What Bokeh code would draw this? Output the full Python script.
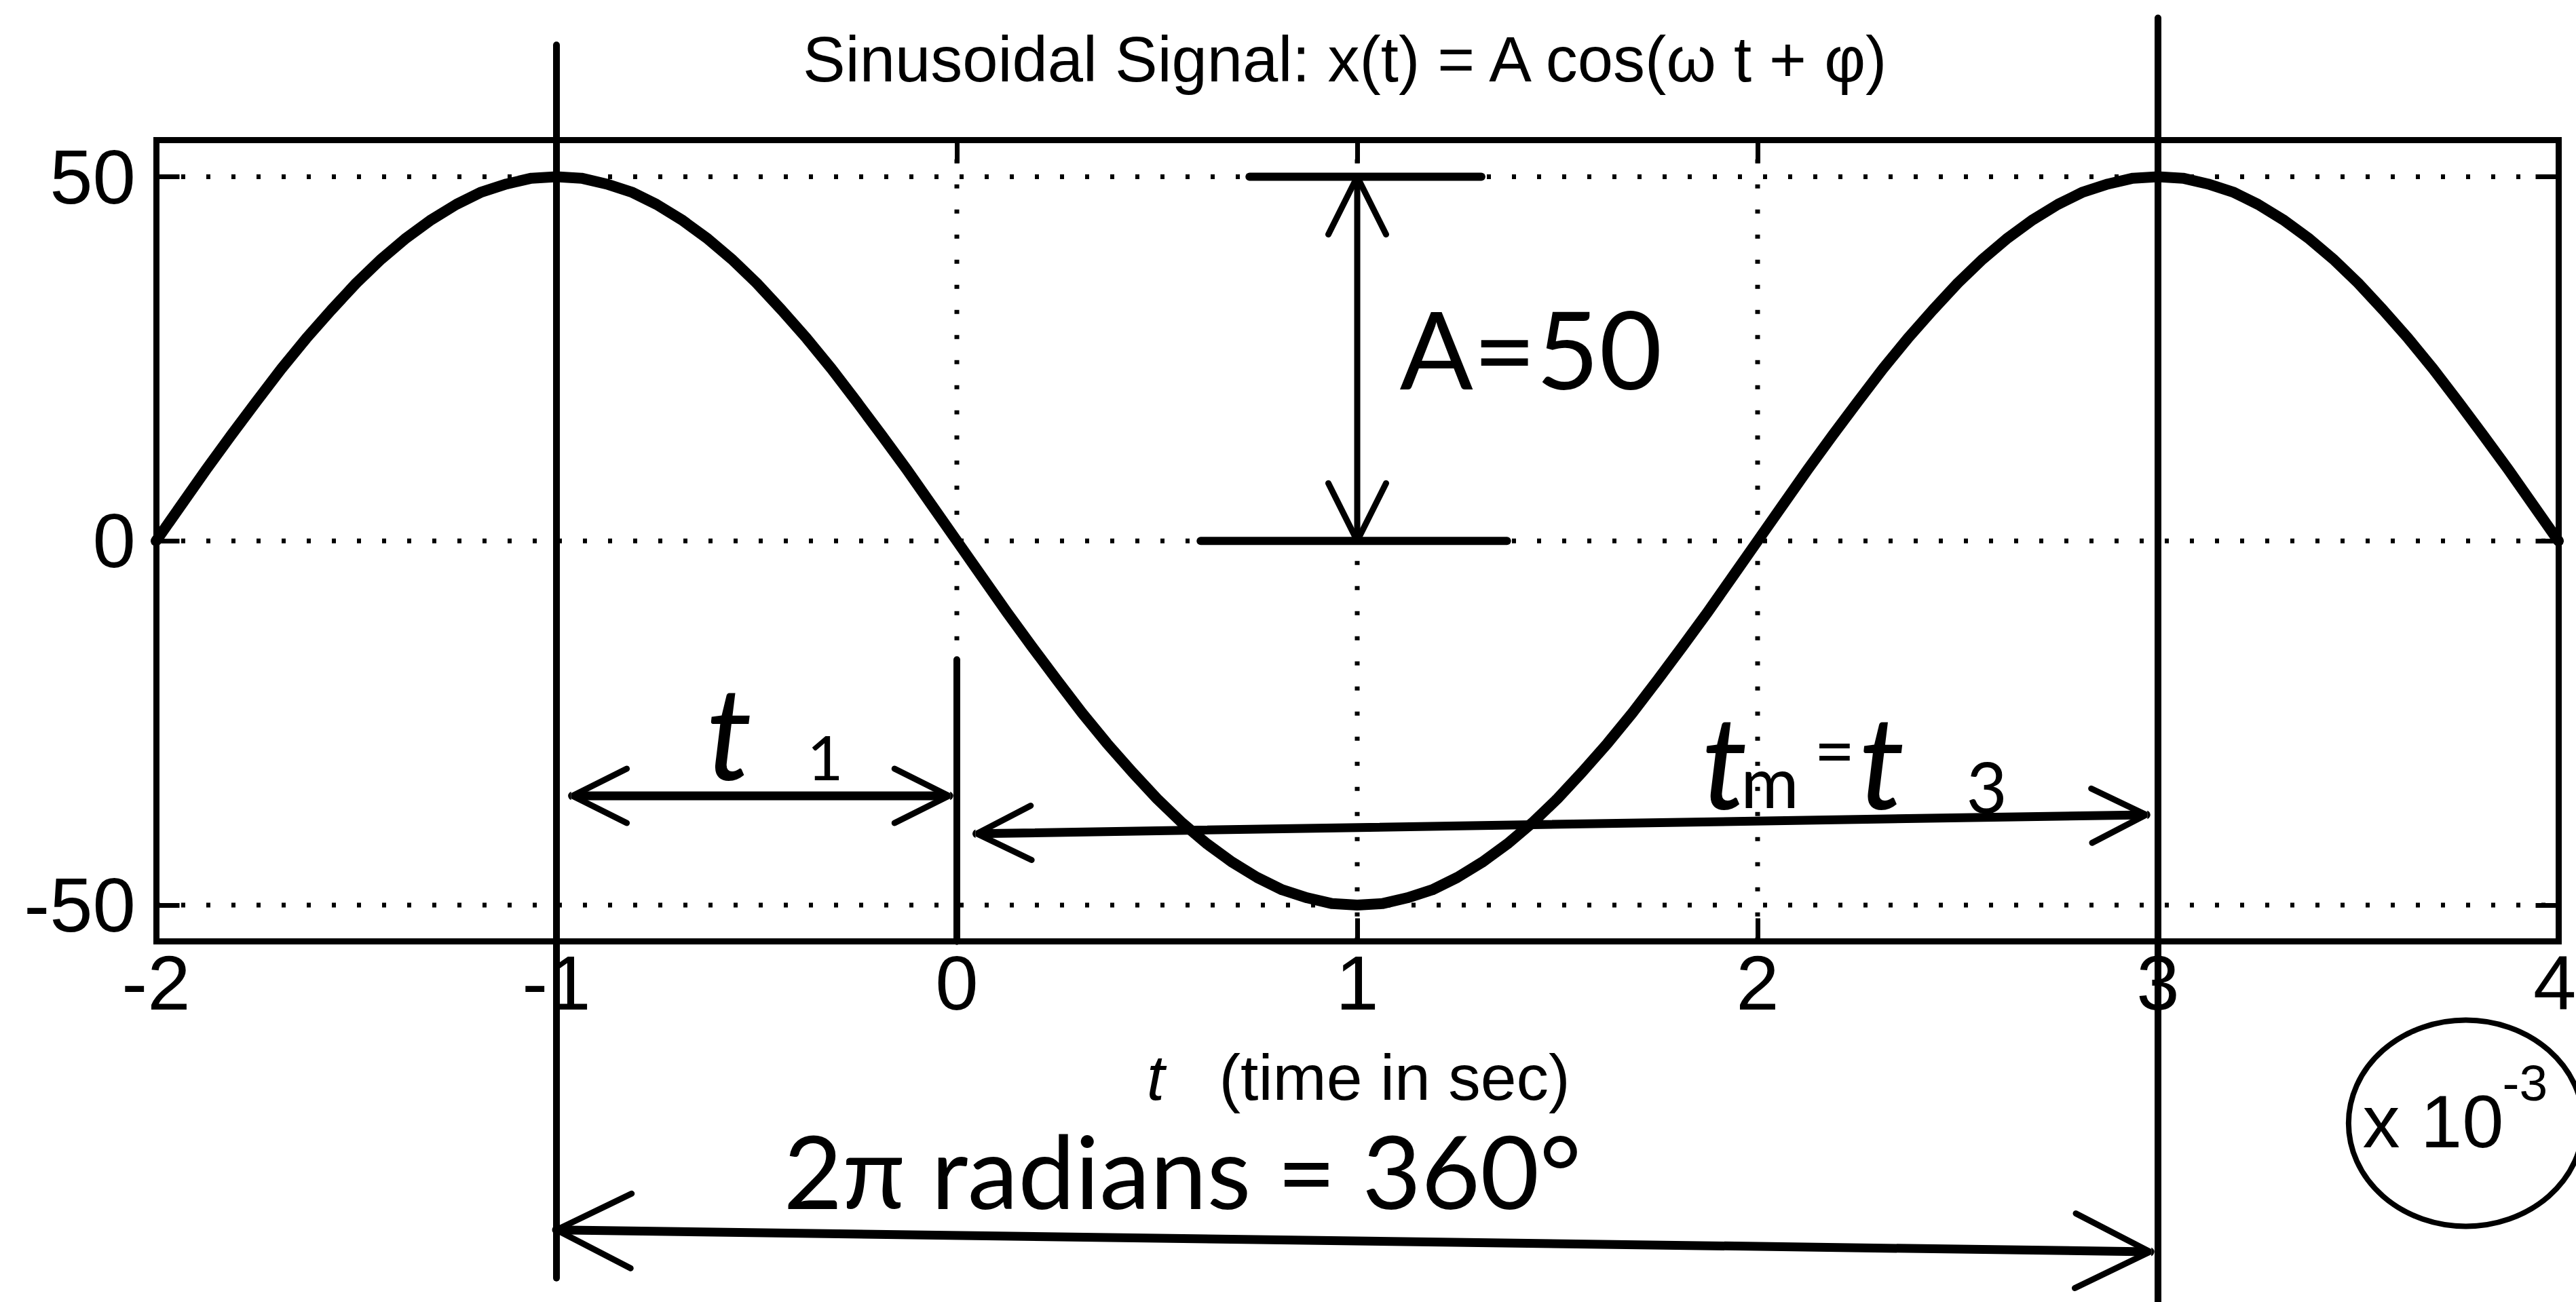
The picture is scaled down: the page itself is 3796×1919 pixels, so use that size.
from bokeh.plotting import figure
from bokeh.models import (Range1d, LinearAxis, FixedTicker, CustomJSTickFormatter,
                          Label, Arrow, OpenHead)
from bokeh.embed import file_html
from bokeh.resources import INLINE

# ---------------------------------------------------------------- data
# time in milliseconds (the axis carries a x 10^-3 multiplier)
t_ms = [-2.0, -1.9375, -1.875, -1.8125, -1.75, -1.6875, -1.625, -1.5625,
        -1.5, -1.4375, -1.375, -1.3125, -1.25, -1.1875, -1.125, -1.0625,
        -1.0, -0.9375, -0.875, -0.8125, -0.75, -0.6875, -0.625, -0.5625,
        -0.5, -0.4375, -0.375, -0.3125, -0.25, -0.1875, -0.125, -0.0625,
        0.0, 0.0625, 0.125, 0.1875, 0.25, 0.3125, 0.375, 0.4375,
        0.5, 0.5625, 0.625, 0.6875, 0.75, 0.8125, 0.875, 0.9375,
        1.0, 1.0625, 1.125, 1.1875, 1.25, 1.3125, 1.375, 1.4375,
        1.5, 1.5625, 1.625, 1.6875, 1.75, 1.8125, 1.875, 1.9375,
        2.0, 2.0625, 2.125, 2.1875, 2.25, 2.3125, 2.375, 2.4375,
        2.5, 2.5625, 2.625, 2.6875, 2.75, 2.8125, 2.875, 2.9375,
        3.0, 3.0625, 3.125, 3.1875, 3.25, 3.3125, 3.375, 3.4375,
        3.5, 3.5625, 3.625, 3.6875, 3.75, 3.8125, 3.875, 3.9375,
        4.0]
x_t = [0.0, 4.9, 9.8, 14.5, 19.1, 23.6, 27.8, 31.7,
       35.4, 38.7, 41.6, 44.1, 46.2, 47.9, 49.0, 49.8,
       50.0, 49.8, 49.0, 47.9, 46.2, 44.1, 41.6, 38.7,
       35.4, 31.7, 27.8, 23.6, 19.1, 14.5, 9.8, 4.9,
       0.0, -4.9, -9.8, -14.5, -19.1, -23.6, -27.8, -31.7,
       -35.4, -38.7, -41.6, -44.1, -46.2, -47.9, -49.0, -49.8,
       -50.0, -49.8, -49.0, -47.9, -46.2, -44.1, -41.6, -38.7,
       -35.4, -31.7, -27.8, -23.6, -19.1, -14.5, -9.8, -4.9,
       0.0, 4.9, 9.8, 14.5, 19.1, 23.6, 27.8, 31.7,
       35.4, 38.7, 41.6, 44.1, 46.2, 47.9, 49.0, 49.8,
       50.0, 49.8, 49.0, 47.9, 46.2, 44.1, 41.6, 38.7,
       35.4, 31.7, 27.8, 23.6, 19.1, 14.5, 9.8, 4.9,
       0.0]

x_ticks = [-2, -1, 0, 1, 2, 3, 4]
x_tick_labels = ["-2", "-1", "0", "1", "2", "3", "4"]
y_ticks = [-50, 0, 50]
y_tick_labels = ["-50", "0", "50"]
x_limits = [-2, 4]
y_limits = [-55, 55]

amplitude = 50          # A
peak_times = [-1, 3]    # two successive maxima, one period apart
zero_time = 0           # zero crossing that ends t1

title_text = "Sinusoidal Signal:  x(t) = A cos(\u03c9 t + \u03c6)"

# ---------------------------------------------------------------- layout
W, H = 3796, 1919
AX_LEFT_PX = 229.5      # pixel column of t = -2
PX_PER_MS = 590.0
Y0_PX = 796.75          # pixel row of x = 0
PX_PER_UNIT = 10.735

x_range = Range1d(x_limits[0] - AX_LEFT_PX / PX_PER_MS,
                  x_limits[0] + (W - AX_LEFT_PX) / PX_PER_MS)
y_range = Range1d(-(H - Y0_PX) / PX_PER_UNIT, Y0_PX / PX_PER_UNIT)

p = figure(width=W, height=H, x_range=x_range, y_range=y_range,
           x_axis_type=None, y_axis_type=None, toolbar_location=None,
           output_backend="svg", min_border=0, title=None)
p.outline_line_color = None
p.background_fill_color = "white"
p.border_fill_color = "white"

INK = "black"
AXIS_FONT = "Liberation Sans"
HAND_FONT = "Lato"

# dotted grid inside the box
gx = x_ticks[1:-1]
p.segment(x0=gx, y0=[y_limits[0]] * len(gx), x1=gx, y1=[y_limits[1]] * len(gx),
          line_color=INK, line_width=7, line_dash="6 31")
p.segment(x0=[x_limits[0]] * len(y_ticks), y0=y_ticks,
          x1=[x_limits[1]] * len(y_ticks), y1=y_ticks,
          line_color=INK, line_width=7, line_dash="6 31")

# the signal
p.line(t_ms, x_t, line_color=INK, line_width=16, line_join="round", line_cap="round")


# boxed axes with inward ticks
def box_axis(side, loc, ticks, tick_labels, bounds):
    ax = LinearAxis(fixed_location=loc, bounds=bounds, ticker=FixedTicker(ticks=ticks),
                    axis_line_color=INK, axis_line_width=9, axis_line_cap="square",
                    major_tick_line_color=INK, major_tick_line_width=7,
                    major_tick_in=34, major_tick_out=0,
                    minor_tick_in=0, minor_tick_out=0,
                    major_label_text_font=AXIS_FONT, major_label_text_font_size="114px",
                    major_label_text_color=INK,
                    major_label_standoff=22 if side == "below" else 30)
    if tick_labels is None:
        ax.formatter = CustomJSTickFormatter(code="return ''")
    else:
        ax.major_label_overrides = {t: s for t, s in zip(ticks, tick_labels)}
    p.add_layout(ax, side)


box_axis("below", y_limits[0], x_ticks, x_tick_labels, tuple(x_limits))
box_axis("above", y_limits[1], x_ticks, None, tuple(x_limits))
box_axis("left", x_limits[0], y_ticks, y_tick_labels, tuple(y_limits))
box_axis("right", x_limits[1], y_ticks, None, tuple(y_limits))


def label(x, y, text, size, font, style="normal", align="left"):
    # y is the text baseline; lift by the gap Bokeh leaves under it
    p.add_layout(Label(x=x, y=y, text=text, text_align=align, text_baseline="alphabetic",
                       y_offset=round(0.38 * size), text_font=font,
                       text_font_style=style, text_font_size=f"{size}px",
                       text_color=INK))


# title, x label and axis multiplier
label(sum(x_limits) / 2, 62.8, title_text, 94, AXIS_FONT, align="center")
label(0.474, -77.0, "t", 95, AXIS_FONT, style="italic")
label(0.655, -77.0, "(time in sec)", 95, AXIS_FONT)
label(3.511, -83.6, "x 10", 110, AXIS_FONT)
label(3.860, -77.1, "-3", 75, AXIS_FONT)

# ---------------------------------------------------------------- hand annotations
HAND_W = 10
# period markers at the two maxima, and the zero crossing
p.segment(x0=[peak_times[0]], y0=[68.1], x1=[peak_times[0]], y1=[-101.2],
          line_color=INK, line_width=HAND_W, line_cap="round")
p.segment(x0=[peak_times[1]], y0=[71.8], x1=[peak_times[1]], y1=[-110.0],
          line_color=INK, line_width=HAND_W, line_cap="round")
p.segment(x0=[zero_time], y0=[-16.3], x1=[zero_time], y1=[y_limits[0]],
          line_color=INK, line_width=HAND_W, line_cap="round")


def two_way(x0, y0, x1, y1, size, width):
    p.add_layout(Arrow(x_start=x0, y_start=y0, x_end=x1, y_end=y1,
                       line_color=INK, line_width=width, line_cap="round",
                       start=OpenHead(size=size, line_color=INK, line_width=9, line_cap="round"),
                       end=OpenHead(size=size, line_color=INK, line_width=9, line_cap="round")))


# amplitude marker
a_x = 1.0
p.segment(x0=[0.731, 0.609], y0=[amplitude, 0], x1=[1.310, 1.374], y1=[amplitude, 0],
          line_color=INK, line_width=12, line_cap="round")
two_way(a_x, 0, a_x, amplitude, 85, 9)
label(1.106, 20.9, "A=50", 160, HAND_FONT)

# t1: from the first peak to the zero crossing
two_way(peak_times[0] + 0.04, -35.0, zero_time - 0.02, -35.0, 80, 13)
label(-0.626, -32.6, "t", 190, HAND_FONT, style="italic")
label(-0.374, -33.1, "1", 92, HAND_FONT)

# tm = t3: from the zero crossing to the next peak
two_way(zero_time + 0.05, -40.2, peak_times[1] - 0.03, -37.6, 80, 13)
label(1.860, -36.6, "t", 190, HAND_FONT, style="italic")
label(1.958, -36.6, "m", 104, HAND_FONT)
label(2.141, -32.3, "=", 104, HAND_FONT)
label(2.253, -36.6, "t", 190, HAND_FONT, style="italic")
label(2.521, -37.6, "3", 104, HAND_FONT)

# one full period
label(-0.433, -91.6, "2\u03c0  radians  =  360\u00b0", 150, HAND_FONT)
two_way(peak_times[0], -94.6, peak_times[1] - 0.02, -97.6, 110, 13)

# ring drawn around the axis multiplier
p.ellipse(x=[3.769], y=[-79.95], width=[0.586], height=[28.3],
          fill_color=None, line_color=INK, line_width=8)

open("out.html", "w").write(file_html(p, INLINE))
